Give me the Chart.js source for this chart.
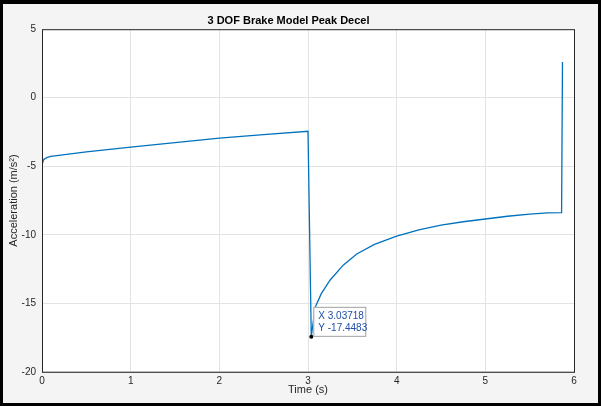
<!DOCTYPE html>
<html>
<head>
<meta charset="utf-8">
<script src="https://cdn.jsdelivr.net/npm/chart.js@4"></script>
<style>
  html, body { margin:0; padding:0; background:#000; }
  #box { position:absolute; left:0; top:0; width:601px; height:406px; box-sizing:border-box; border:3px solid #000; border-top-width:4px; background:#f4f4f4; }
  #wrap { position:relative; width:595px; height:399px; }
</style>
</head>
<body>
<div id="box"><div id="wrap"><canvas id="c"></canvas></div></div>
<script>
// time (s) and acceleration (m/s^2)
const tempo = [0, 0.02, 0.06, 0.1, 0.5, 1, 1.5, 2, 2.5, 3.0, 3.037, 3.08, 3.15, 3.25, 3.4, 3.55, 3.75, 4.0, 4.25, 4.5, 4.75, 5.0, 5.25, 5.5, 5.7, 5.86, 5.87];
const aceleracao = [-4.9, -4.5, -4.35, -4.28, -3.95, -3.6, -3.27, -2.95, -2.7, -2.45, -17.45, -15.3, -14.3, -13.3, -12.2, -11.4, -10.7, -10.1, -9.65, -9.3, -9.05, -8.85, -8.65, -8.5, -8.4, -8.38, 2.6];
const xTicks = [0, 1, 2, 3, 4, 5, 6];
const yTicks = [5, 0, -5, -10, -15, -20];
const dica = { x: 3.03718, y: -17.4483 };

const fonte = "'Liberation Sans', Arial, sans-serif";

const plugBorda = {
    id: 'borda',
    beforeDraw(chart){
        const { ctx, chartArea: a } = chart;
        ctx.save();
        ctx.fillStyle = '#fff';
        ctx.fillRect(a.left, a.top, a.right - a.left, a.bottom - a.top);
        ctx.restore();
    },
    afterDraw(chart){
        const { ctx, chartArea: a, scales } = chart;
        ctx.save();
        ctx.strokeStyle = '#262626';
        ctx.lineWidth = 1;
        ctx.strokeRect(a.left + 0.5, a.top + 0.5, a.right - a.left, a.bottom - a.top);
        // data tip
        const px = scales.x.getPixelForValue(dica.x);
        const py = scales.y.getPixelForValue(dica.y);
        ctx.fillStyle = '#000';
        ctx.beginPath(); ctx.arc(px, py, 2, 0, Math.PI * 2); ctx.fill();
        const bx = px + 2, by = py - 30, bw = 52, bh = 29;
        ctx.fillStyle = '#fff';
        ctx.fillRect(bx, by, bw, bh);
        ctx.strokeStyle = '#a0a0a0';
        ctx.strokeRect(bx + 0.5, by + 0.5, bw, bh);
        ctx.fillStyle = '#1f4fa8';
        ctx.font = '10px ' + fonte;
        ctx.textBaseline = 'middle';
        ctx.fillText('X 3.03718', bx + 5, by + 9);
        ctx.fillText('Y -17.4483', bx + 5, by + 21);
        ctx.restore();
    }
};

new Chart(document.getElementById('c'), {
    type: 'scatter',
    data: {
        datasets: [{
            data: tempo.map((t, i) => ({ x: t, y: aceleracao[i] })),
            showLine: true,
            borderColor: '#0072bd',
            borderWidth: 1.3,
            pointRadius: 0,
            tension: 0
        }]
    },
    options: {
        responsive: true,
        maintainAspectRatio: false,
        animation: false,
        layout: { padding: { top: 0, right: 24, bottom: 2, left: 0 } },
        plugins: {
            legend: { display: false },
            tooltip: { enabled: false },
            title: {
                display: true,
                text: '3 DOF Brake Model Peak Decel',
                color: '#000',
                font: { family: fonte, size: 11, weight: 'bold' },
                padding: { top: 10, bottom: 2 }
            }
        },
        scales: {
            x: {
                type: 'linear', min: 0, max: 6,
                afterBuildTicks: s => { s.ticks = xTicks.map(v => ({ value: v })); },
                grid: { color: '#e3e3e3', drawTicks: false },
                border: { display: false },
                ticks: { color: '#262626', font: { family: fonte, size: 10 }, padding: 3 },
                title: { display: true, text: 'Time (s)', color: '#262626', font: { family: fonte, size: 11 }, padding: { top: -6 } }
            },
            y: {
                min: -20, max: 5,
                afterBuildTicks: s => { s.ticks = yTicks.map(v => ({ value: v })); },
                afterFit: s => { s.width = 39; },
                grid: { color: '#e3e3e3', drawTicks: false },
                border: { display: false },
                ticks: { color: '#262626', font: { family: fonte, size: 10 }, padding: 6 },
                title: { display: true, text: 'Acceleration (m/s²)', color: '#262626', font: { family: fonte, size: 11 }, padding: { bottom: 0 } }
            }
        }
    },
    plugins: [plugBorda]
});
</script>
</body>
</html>
